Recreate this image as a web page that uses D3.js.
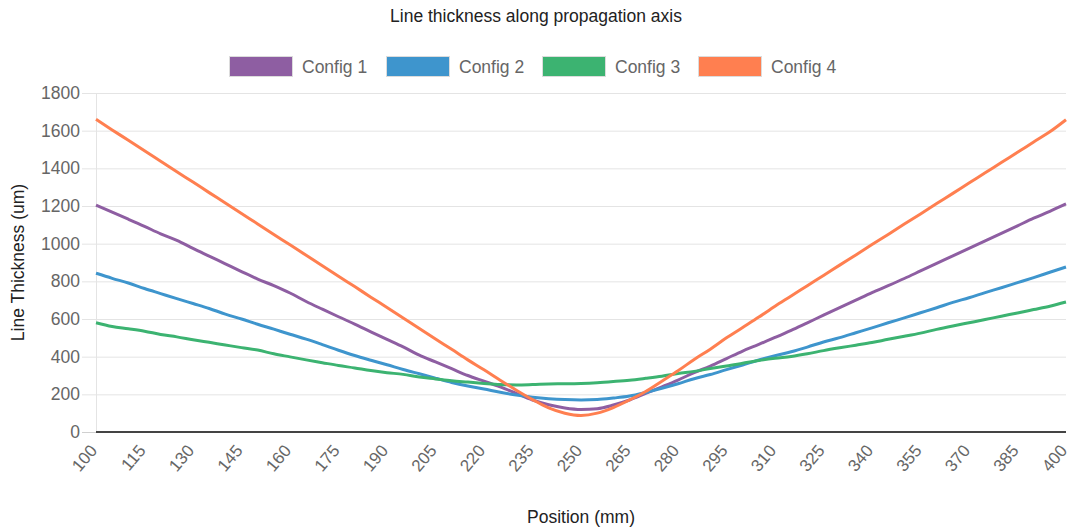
<!DOCTYPE html>
<html>
<head>
<meta charset="utf-8">
<script src="https://cdn.jsdelivr.net/npm/d3@7"></script>
<style>
  html, body { margin: 0; padding: 0; background: #fff; }
  svg { display: block; font-family: "Liberation Sans", Arial, sans-serif; }
</style>
</head>
<body>
<svg id="chart" width="1072" height="528"></svg>
<script>
const positions = [100,105,110,115,120,125,130,135,140,145,150,155,160,165,170,175,180,185,190,195,200,205,210,215,220,225,230,235,240,245,250,255,260,265,270,275,280,285,290,295,300,305,310,315,320,325,330,335,340,345,350,355,360,365,370,375,380,385,390,395,400];

const config1 = [1205,1167,1130,1092,1052,1018,975,934,893,852,812,777,738,693,652,612,573,532,492,452,408,372,336,300,270,240,205,170,145,128,120,124,143,170,205,240,276,315,350,390,430,465,502,540,580,620,660,700,740,777,815,855,895,935,975,1015,1055,1095,1135,1172,1211];
const config2 = [843,816,791,762,735,708,682,656,626,600,572,546,519,493,464,434,406,381,357,332,309,286,263,244,228,211,196,185,177,172,170,172,180,191,210,232,256,283,305,331,356,382,405,426,451,478,501,527,553,580,606,633,660,688,713,740,766,793,820,848,876];
const config3 = [580,560,548,535,518,505,490,476,462,448,435,415,399,383,368,353,340,326,315,306,292,282,272,265,258,252,250,252,255,256,258,262,268,275,285,296,310,322,337,350,365,380,392,401,415,432,447,461,475,492,508,525,545,563,580,597,615,632,650,668,690];
const config4 = [1660,1604,1549,1493,1438,1382,1327,1271,1216,1160,1105,1049,994,938,883,827,772,716,661,605,550,494,439,383,330,275,222,172,128,100,88,100,130,170,215,270,325,385,440,500,555,610,668,722,777,831,886,940,995,1049,1104,1158,1213,1267,1322,1376,1431,1485,1540,1594,1658];

const seriesNames = ["Config 1", "Config 2", "Config 3", "Config 4"];
const seriesColors = ["#8e5ea2", "#3e95cd", "#3cb371", "#ff7f50"];
const yTicks = [0,200,400,600,800,1000,1200,1400,1600,1800];
const xTickLabels = [100,115,130,145,160,175,190,205,220,235,250,265,280,295,310,325,340,355,370,385,400];
const titleText = "Line thickness along propagation axis";
const xTitle = "Position (mm)";
const yTitle = "Line Thickness (um)";

const seriesData = [config1, config2, config3, config4];

const svg = d3.select("#chart");
const pL = 96, pR = 1066, pT = 93, pB = 432;

const x = d3.scalePoint().domain(positions).range([pL, pR]);
const y = d3.scaleLinear().domain([0, 1800]).range([pB, pT]);

// title
svg.append("text").attr("x", 536).attr("y", 22).attr("text-anchor", "middle")
  .attr("font-size", 17.5).attr("fill", "#222").text(titleText);

// legend
const legendX = [229, 386, 542, 698];
seriesNames.forEach((n, i) => {
  const g = svg.append("g").attr("transform", `translate(${legendX[i]},56)`);
  g.append("rect").attr("x", 0.5).attr("y", 0.5).attr("width", 63).attr("height", 20)
    .attr("fill", seriesColors[i]).attr("stroke", "#dcdcdc").attr("stroke-width", 1);
  g.append("text").attr("x", 73).attr("y", 16.5).attr("font-size", 17.5).attr("fill", "#666").text(n);
});

// horizontal gridlines
svg.append("g").selectAll("line").data(yTicks.filter(d => d !== 0)).join("line")
  .attr("x1", 82).attr("x2", pR).attr("y1", d => y(d) + 0.5).attr("y2", d => y(d) + 0.5)
  .attr("stroke", "#e4e4e4").attr("stroke-width", 1);

// y axis line
svg.append("line").attr("x1", pL + 0.5).attr("x2", pL + 0.5).attr("y1", pT).attr("y2", pB)
  .attr("stroke", "#e4e4e4").attr("stroke-width", 1);

// zero line
svg.append("line").attr("x1", 82).attr("x2", pL).attr("y1", y(0) + 0.5).attr("y2", y(0) + 0.5)
  .attr("stroke", "#d0d0d0").attr("stroke-width", 1);
svg.append("line").attr("x1", pL).attr("x2", pR).attr("y1", y(0)).attr("y2", y(0))
  .attr("stroke", "#444").attr("stroke-width", 2);

// y tick labels
svg.append("g").selectAll("text").data(yTicks).join("text")
  .attr("x", 80).attr("y", d => y(d) + 6).attr("text-anchor", "end")
  .attr("font-size", 17.5).attr("fill", "#666").text(d => d);

// x tick labels (rotated)
svg.append("g").selectAll("text").data(xTickLabels).join("text")
  .attr("transform", d => `translate(${x(d) + 2},${pB + 19}) rotate(-50)`)
  .attr("text-anchor", "end").attr("font-size", 17).attr("fill", "#666").text(d => d);

// axis titles
svg.append("text").attr("x", (pL + pR) / 2).attr("y", 523).attr("text-anchor", "middle")
  .attr("font-size", 17.5).attr("fill", "#222").text(xTitle);
svg.append("text").attr("transform", `translate(24,${(pT + pB) / 2}) rotate(-90)`)
  .attr("text-anchor", "middle").attr("font-size", 17.5).attr("fill", "#222").text(yTitle);

// lines
const line = d3.line().x((d, i) => x(positions[i])).y(d => y(d)).curve(d3.curveMonotoneX);
seriesData.forEach((s, i) => {
  svg.append("path").datum(s).attr("d", line).attr("fill", "none")
    .attr("stroke", seriesColors[i]).attr("stroke-width", 3).attr("stroke-linejoin", "round");
});
</script>
</body>
</html>
